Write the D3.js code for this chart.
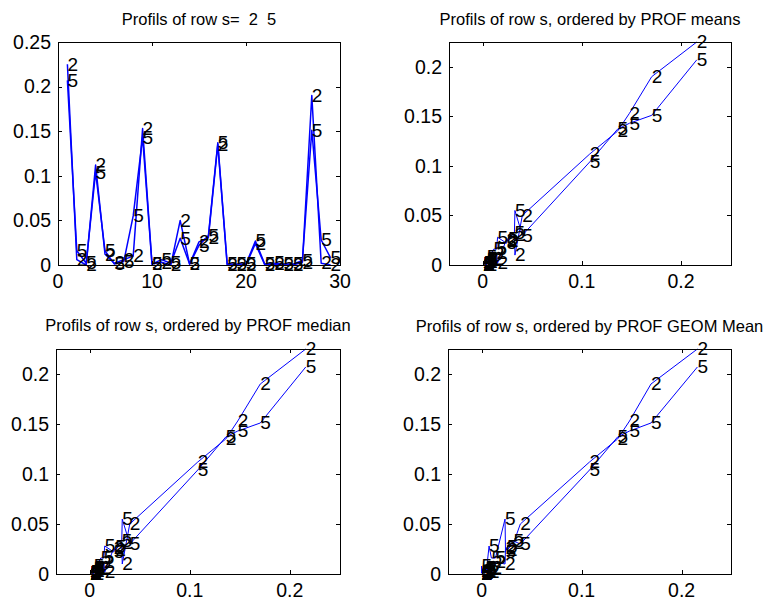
<!DOCTYPE html>
<html><head><meta charset="utf-8">
<script src="https://cdn.jsdelivr.net/npm/d3@7/dist/d3.min.js"></script>
<style>
html,body{margin:0;padding:0;background:#fff;}
svg{display:block;}
text{font-family:"Liberation Sans",Arial,sans-serif;fill:#000;white-space:pre;}
</style></head>
<body>
<svg id="chart" width="764" height="598"></svg>
<script>
// ---- data ----
const rowNames = ["2", "5"];
const columns = [1,2,3,4,5,6,7,8,9,10,11,12,13,14,15,16,17,18,19,20,21,22,23,24,25,26,27,28,29];
const row2 = [0.225,0.006,0.000,0.112,0.012,0.002,0.006,0.010,0.153,0.001,0.003,0.000,0.050,0.001,0.026,0.031,0.135,0.000,0.000,0.000,0.024,0.000,0.001,0.000,0.000,0.003,0.190,0.002,0.000];
const row5 = [0.207,0.016,0.002,0.104,0.016,0.001,0.004,0.055,0.143,0.001,0.006,0.002,0.030,0.001,0.022,0.033,0.137,0.001,0.001,0.001,0.027,0.001,0.002,0.001,0.001,0.005,0.151,0.028,0.008];
const titles = ["Profils of row s=  2  5", "Profils of row s, ordered by PROF means", "Profils of row s, ordered by PROF median", "Profils of row s, ordered by PROF GEOM Mean"];
const xTicks1 = [0,10,20,30];
const yTicks1 = [0,0.05,0.1,0.15,0.2,0.25];
const xTicksOrd = [0,0.1,0.2];
const yTicksOrd = [0,0.05,0.1,0.15,0.2];

// ordering measures per column (statistics of the two displayed row profiles)
const measures = {
  mean:   (a,b) => d3.mean([a,b]),
  median: (a,b) => d3.median([a,b]),
  geom:   (a,b) => Math.sqrt(a*b)
};

const svg = d3.select("#chart");
svg.append("rect").attr("width",764).attr("height",598).attr("fill","#fff");

const panels = [
  {kind:"index",  title:titles[0], box:[58,42,340,265],  titleY:25,  xTicks:xTicks1,  yTicks:yTicks1, lw:1.5},
  {kind:"mean",   title:titles[1], box:[449,42,731,265], titleY:25,  xTicks:xTicksOrd, yTicks:yTicksOrd, lw:1},
  {kind:"median", title:titles[2], box:[56,349,340,574], titleY:331, xTicks:xTicksOrd, yTicks:yTicksOrd, lw:1},
  {kind:"geom",   title:titles[3], box:[448,349,731,574],titleY:332, xTicks:xTicksOrd, yTicks:yTicksOrd, lw:1}
];

const fmt = v => String(+v.toFixed(2));
const TICK_FS = 19.5, LAB_FS = 19, TITLE_FS = 16.5;

panels.forEach(p => {
  const [x0,y0,x1,y1] = p.box;
  const W = x1-x0, H = y1-y0;
  let xs, ys, series;
  if (p.kind === "index") {
    xs = d3.scaleLinear().domain([0,30]).range([x0,x1]);
    ys = d3.scaleLinear().domain([0,0.25]).range([y1,y0]);
    series = [row2, row5].map((vals,k) => ({name:rowNames[k], pts: columns.map((c,i)=>({x:c, y:vals[i]}))}));
  } else {
    const f = measures[p.kind];
    const xv = columns.map((c,i)=>f(row2[i],row5[i]));
    const order = d3.range(columns.length).sort((a,b)=>xv[a]-xv[b]);
    const ymax = d3.max([...row2,...row5]);
    ys = d3.scaleLinear().domain([0,ymax]).range([y1,y0]);
    const k = H/ymax; // px per unit (axis equal)
    const xc = (d3.min(xv)+d3.max(xv))/2, half = W/k/2;
    xs = d3.scaleLinear().domain([xc-half, xc+half]).range([x0,x1]);
    series = [row2, row5].map((vals,j) => ({name:rowNames[j], pts: order.map(i=>({x:xv[i], y:vals[i]}))}));
  }
  const g = svg.append("g");
  const line = d3.line().x(d=>xs(d.x)).y(d=>ys(d.y));
  series.forEach(s => {
    g.append("path").attr("d", line(s.pts)).attr("fill","none").attr("stroke","#0000ff")
      .attr("stroke-width",p.lw).attr("stroke-linejoin","round");
  });
  series.forEach(s => {
    g.selectAll(null).data(s.pts).enter().append("text")
      .attr("x", d=>xs(d.x)).attr("y", d=>ys(d.y)).attr("dy","0.33em")
      .attr("font-size", LAB_FS).text(s.name);
  });
  g.append("rect").attr("x",x0+0.5).attr("y",y0+0.5).attr("width",W).attr("height",H)
    .attr("fill","none").attr("stroke","#000").attr("stroke-width",1);
  const TL = 4;
  p.xTicks.forEach(t => {
    const x = Math.round(xs(t))+0.5;
    g.append("line").attr("x1",x).attr("x2",x).attr("y1",y1).attr("y2",y1-TL).attr("stroke","#000");
    g.append("line").attr("x1",x).attr("x2",x).attr("y1",y0).attr("y2",y0+TL).attr("stroke","#000");
    g.append("text").attr("x",xs(t)).attr("y",y1+23).attr("text-anchor","middle")
      .attr("font-size",TICK_FS).text(fmt(t));
  });
  p.yTicks.forEach(t => {
    const y = Math.round(ys(t))+0.5;
    g.append("line").attr("x1",x0).attr("x2",x0+TL).attr("y1",y).attr("y2",y).attr("stroke","#000");
    g.append("line").attr("x1",x1).attr("x2",x1-TL).attr("y1",y).attr("y2",y).attr("stroke","#000");
    g.append("text").attr("x",x0-7).attr("y",ys(t)).attr("dy","0.35em").attr("text-anchor","end")
      .attr("font-size",TICK_FS).text(fmt(t));
  });
  g.append("text").attr("x",(x0+x1)/2).attr("y",p.titleY).attr("text-anchor","middle")
    .attr("font-size",TITLE_FS).text(p.title);
});
</script>
</body></html>
